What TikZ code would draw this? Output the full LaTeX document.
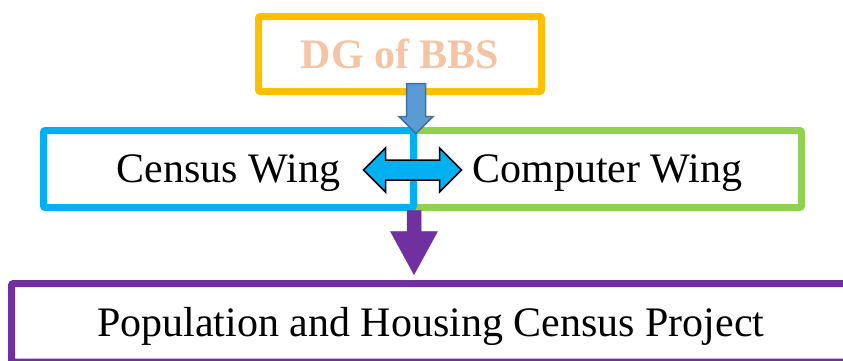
\documentclass[tikz,border=0pt]{standalone}
\usepackage{fontspec}
\setmainfont{Liberation Serif}
\usetikzlibrary{calc}
\definecolor{dgyellow}{HTML}{FFC000}
\definecolor{dgpeach}{HTML}{F5C4A4}
\definecolor{censusblue}{HTML}{00B0F0}
\definecolor{computergreen}{HTML}{92D050}
\definecolor{projectpurple}{HTML}{7030A0}
\definecolor{arrowblue}{HTML}{5B9BD5}
\definecolor{arrowborder}{HTML}{41719C}
\begin{document}
\begin{tikzpicture}
[x=1pt,y=1pt,
  nodedecorate/.style={shape=rectangle,draw,line width=7pt,rounded corners=2pt,fill=white,inner sep=0pt,
    text height=36pt,text depth=9pt,font=\fontsize{42}{48}\selectfont},
  dgbox/.style={nodedecorate,draw=dgyellow,text=dgpeach,text height=30pt,text depth=1.5pt,
    font=\fontsize{42}{48}\selectfont\bfseries},
  censusbox/.style={nodedecorate,draw=censusblue},
  computerbox/.style={nodedecorate,draw=computergreen},
  projectbox/.style={nodedecorate,draw=projectpurple},
  bluearrow/.style={fill=arrowblue,draw=arrowborder,line width=1.5pt},
  purplearrow/.style={fill=projectpurple,draw=projectpurple,line width=0.5pt},
  wingarrow/.style={fill=censusblue,draw=black,line width=1.5pt}]
\useasboundingbox (0,0) rectangle (843,360);
\clip (0,0) rectangle (843,360);
%% boxes
\foreach \nodename/\x/\y/\w/\h/\look/\txt in {
  project/430.75/37.25/838.5/78.5/projectbox/Population and Housing Census Project,
  computer/607.5/191/388/77/computerbox/Computer Wing,
  census/228.5/191/370/77/censusbox/Census Wing,
  dg/400/306/283/75/dgbox/DG of BBS}
{
  \node (\nodename) at (\x,\y) [\look,minimum width=\w,minimum height=\h] {\txt};
}
%% arrow ends
\coordinate (dgout) at ($(dg.south -| census.east)+(-1,11.5)$);
\coordinate (wingin) at ($(census.north east)+(-1,-6.5)$);
\coordinate (wingout) at ($(census.south east)+(-3,0.5)$);
\coordinate (projin) at ($(wingout |- project.north)+(0,5.5)$);
\coordinate (swap) at ($(census.east)+(-4.5,-1)$);
%% block arrows
\foreach \startnode/\endnode/\shaft/\head/\headlen/\look in {dgout/wingin/9.5/17/17/bluearrow,
  wingout/projin/7/23.5/43/purplearrow}
{
  \draw[\look] ($(\startnode)+(-\shaft,0)$) -- ($(\endnode)+(-\shaft,\headlen)$)
    -- ($(\endnode)+(-\head,\headlen)$) -- (\endnode) -- ($(\endnode)+(\head,\headlen)$)
    -- ($(\endnode)+(\shaft,\headlen)$) -- ($(\startnode)+(\shaft,0)$) -- cycle;
}
\draw[wingarrow] ($(swap)+(-49,0)$) -- ++(22,22) -- ++(0,-12) -- ++(54,0) -- ++(0,12)
  -- ++(22,-22) -- ++(-22,-22) -- ++(0,12) -- ++(-54,0) -- ++(0,-12) -- cycle;
\end{tikzpicture}
\end{document}
